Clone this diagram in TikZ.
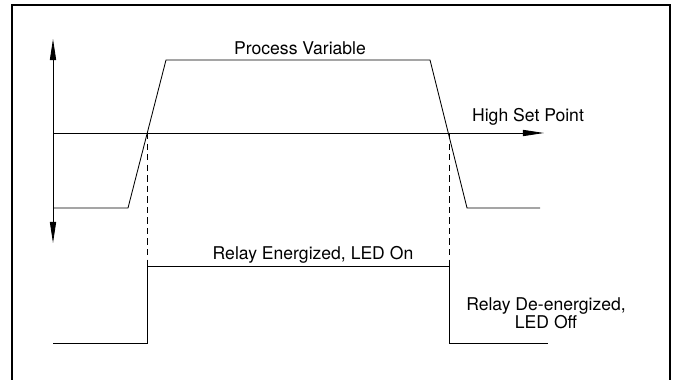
\documentclass[tikz,border=0pt]{standalone}
\usepackage{fontspec}
\setmainfont{TeX Gyre Heros}
\usetikzlibrary{arrows.meta}

\begin{document}
\begin{tikzpicture}[
            x=0.025cm, y=-0.025cm,
            >={Triangle[length=15pt, width=4.4pt]},
            trace/.style={line width=0.6pt},
            guide/.style={line width=0.6pt, dash pattern=on 4.5pt off 3pt},
            txt/.style={font=\fontsize{12.5}{13}\selectfont, anchor=base, inner sep=0pt, align=center}
        ]

            \useasboundingbox (0,0) rectangle (677,380);
            \draw[line width=1.4pt] (12,382) -- (12,5) -- (670,5) -- (670,382);

            % axis and set point
            \coordinate (ytop) at (53,39);
            \coordinate (ybot) at (53,243);
            \coordinate (sp) at (53,133);
            \coordinate (spend) at (544,133);
            \draw[trace, <->] (ytop) -- (ybot);
            \draw[trace, ->] (sp) -- (spend);

            % process variable
            \coordinate (pv0) at (53,208);
            \coordinate (pv1) at (128,208);
            \coordinate (pv2) at (166,60);
            \coordinate (pv3) at (430,60);
            \coordinate (pv4) at (467,208);
            \coordinate (pv5) at (540,208);
            \draw[trace] (pv0) -- (pv1) -- (pv2) -- (pv3) -- (pv4) -- (pv5);

            % relay output
            \coordinate (on) at (147,133);
            \coordinate (off) at (449,133);
            \coordinate (r0) at (53,343);
            \coordinate (r1) at (147,343);
            \coordinate (r2) at (147,266);
            \coordinate (r3) at (449,266);
            \coordinate (r4) at (449,343);
            \coordinate (r5) at (548,343);
            \draw[trace] (r0) -- (r1) -- (r2) -- (r3) -- (r4) -- (r5);
            \draw[guide] (on) -- (r2);
            \draw[guide] (off) -- (r3);

            \node[txt] (pvlabel) at (300,54.5) {Process Variable};
            \node[txt] (splabel) at (528,121.5) {High Set Point};
            \node[txt] (onlabel) at (313,259.6) {Relay Energized, LED On};
            \node[txt, anchor=north] (offlabel) at (546,297) {Relay De-energized,\\LED Off};

        \end{tikzpicture}
\end{document}
